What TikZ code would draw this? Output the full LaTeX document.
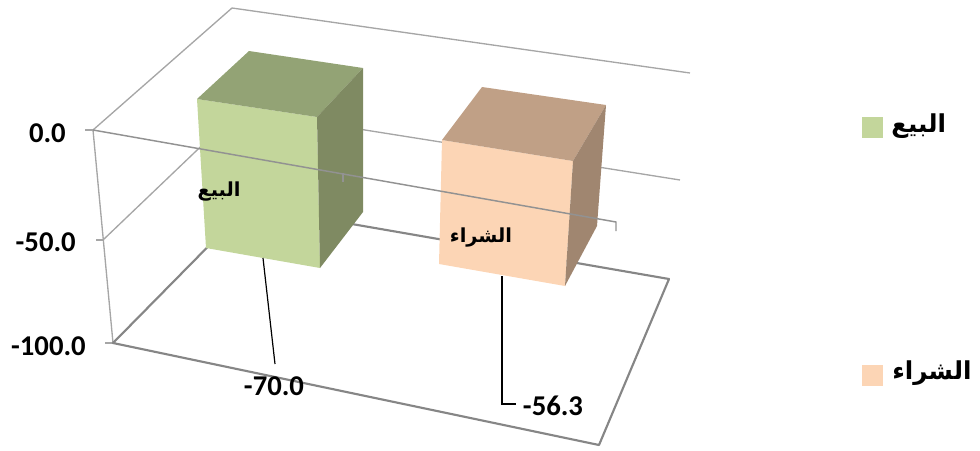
\documentclass[tikz,border=0pt]{standalone}
\usepackage{fontspec}
\setmainfont{Carlito}
\newfontfamily\arabicfont[Script=Arabic]{DejaVu Sans}
\TeXXeTstate=1
\definecolor{gfront}{HTML}{C3D69B}
\definecolor{gtop}{HTML}{93A375}
\definecolor{gside}{HTML}{7F8A62}
\definecolor{pfront}{HTML}{FCD5B5}
\definecolor{ptop}{HTML}{C0A086}
\definecolor{pside}{HTML}{A08670}
\definecolor{wallline}{HTML}{A6A6A6}
\definecolor{floorline}{HTML}{868686}
\begin{document}
\begin{tikzpicture}[x=0.75pt,y=-0.75pt,
  wall/.style={draw=wallline,line width=1pt},
  floor/.style={draw=floorline,line width=1.6pt,line join=round},
  axisline/.style={draw=floorline!90,line width=1.1pt},
  leader/.style={draw=black,line width=0.9pt},
  num/.style={font=\fontsize{21.5}{24}\selectfont\bfseries,inner sep=0pt},
  arlab/.style={font=\arabicfont\fontsize{14.5}{18}\selectfont\bfseries,inner sep=0pt},
  arleg/.style={font=\arabicfont\fontsize{18.5}{22}\selectfont\bfseries,inner sep=0pt}]
\useasboundingbox (0,0) rectangle (980,450);
% coordinates
\coordinate (f0) at (93,130);
\coordinate (f50) at (103,240);
\coordinate (f100) at (113,343);
\coordinate (b0) at (232,8);
\coordinate (b50) at (239,110);
\coordinate (b100) at (248,206);
\coordinate (r0) at (690,73);
\coordinate (r50) at (680,180);
\coordinate (r100) at (669,279);
\coordinate (fr100) at (599,445);
\coordinate (xe) at (616,222);
% walls
\draw[wall] (f0) -- (b0) -- (r0);
\draw[wall] (f50) -- (b50) -- (r50);
\draw[wall] (f0) -- (f100);
\draw[wall] (85,130) -- (f0);
\draw[wall] (96,240) -- (f50);
\draw[wall] (105,343) -- (f100);
% floor
\draw[floor] (f100) -- (b100) -- (r100) -- (fr100) -- cycle;
% green cube
\coordinate (g1) at (197,99);
\coordinate (g2) at (317,117);
\coordinate (g3) at (320,268);
\coordinate (g4) at (206,248);
\coordinate (g5) at (249,51);
\coordinate (g6) at (363,68);
\coordinate (g7) at (363,212);
\fill[gfront] (g1) -- (g2) -- (g3) -- (g4) -- cycle;
\fill[gtop] (g1) -- (g5) -- (g6) -- (g2) -- cycle;
\fill[gside] (g2) -- (g6) -- (g7) -- (g3) -- cycle;
% peach cube
\coordinate (p1) at (442,140);
\coordinate (p2) at (573,161);
\coordinate (p3) at (565,286);
\coordinate (p4) at (439,264);
\coordinate (p5) at (482,87);
\coordinate (p6) at (606,105);
\coordinate (p7) at (597,226);
\fill[pfront] (p1) -- (p2) -- (p3) -- (p4) -- cycle;
\fill[ptop] (p1) -- (p5) -- (p6) -- (p2) -- cycle;
\fill[pside] (p2) -- (p6) -- (p7) -- (p3) -- cycle;
% category axis at 0
\draw[axisline] (f0) -- (xe) -- ++(0,9);
\draw[axisline] (343,173) -- (343,182);
% value labels
\node[num,anchor=east] (l0) at (66,133) {0.0};
\node[num,anchor=east] (l50) at (76,242) {-50.0};
\node[num,anchor=east] (l100) at (86,346) {-100.0};
% data labels
\node[num] (dg) at (274,386) {-70.0};
\node[num] (dp) at (553,406) {-56.3};
\coordinate (gl) at (263,258);
\coordinate (gle) at (275,364);
\coordinate (pl) at (502,276);
\coordinate (ple) at (516,404);
\draw[leader] (gl) -- (gle);
\draw[leader] (pl) -- (pl |- ple) -- (ple);
% category labels
\node[arlab] (cg) at (219,192) {\beginR البيع\endR};
\node[arlab] (cp) at (481,238) {\beginR الشراء\endR};
% legend
\node[fill=gfront,minimum size=16pt,inner sep=0pt] (kg) at (872.5,127.5) {};
\node[fill=pfront,minimum size=16pt,inner sep=0pt] (kp) at (872.5,375.5) {};
\node[arleg,anchor=west] (tg) at (891,126) {\beginR البيع\endR};
\node[arleg,anchor=west] (tp) at (892,373) {\beginR الشراء\endR};
\end{tikzpicture}
\end{document}
